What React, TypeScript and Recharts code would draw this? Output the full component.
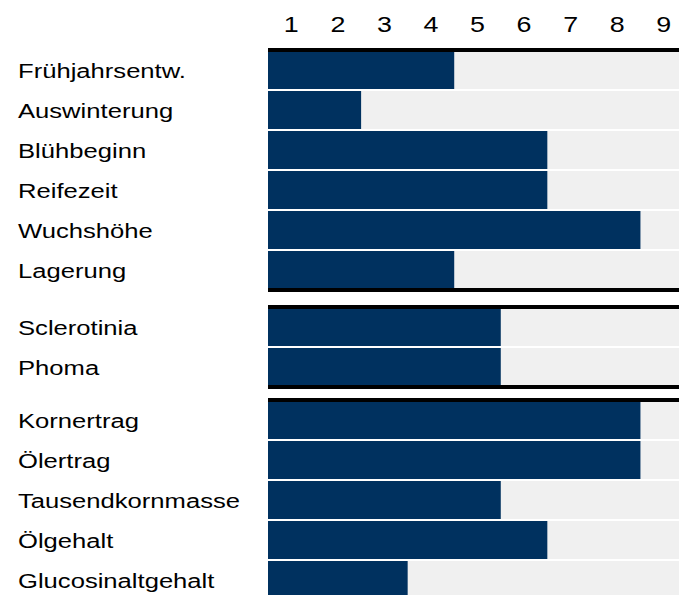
import * as React from "react";
import { BarChart, Bar, XAxis, YAxis } from "recharts";

// grades on the 1-9 scale, three blocks of traits
const traitsGrowth = ["Frühjahrsentw.", "Auswinterung", "Blühbeginn", "Reifezeit", "Wuchshöhe", "Lagerung"];
const gradesGrowth = [4, 2, 6, 6, 8, 4];

const traitsDisease = ["Sclerotinia", "Phoma"];
const gradesDisease = [5, 5];

const traitsYield = ["Kornertrag", "Ölertrag", "Tausendkornmasse", "Ölgehalt", "Glucosinaltgehalt"];
const gradesYield = [8, 8, 5, 6, 3];

const scaleTicks = [1, 2, 3, 4, 5, 6, 7, 8, 9];
const cellEdges = [0.5, 1.5, 2.5, 3.5, 4.5, 5.5, 6.5, 7.5, 8.5, 9.5];

const FONT = "'Liberation Sans', Arial, sans-serif";
const STRETCH = 1.22; // text in the original is a bit wide
const BAND = 40;
const FOOT = 8;
const LEFT = 268;
const CHART_W = 687;
const BAR_COLOR = "#00315f";
const TRACK_COLOR = "#f0f0f0";

// a grade fills its cells from 0.5 up to grade + 0.5
const toRows = (traits: string[], grades: number[]) =>
  traits.map((trait, i) => ({ trait, grade: grades[i], end: grades[i] + 0.5 }));

function LabelTick(props: any) {
  const { y, payload } = props;
  return (
    <text
      transform={`translate(18,${y + 7.5}) scale(${STRETCH},1)`}
      fontFamily={FONT}
      fontSize={21}
      fill="#000"
    >
      {payload.value}
    </text>
  );
}

function NumberTick(props: any) {
  const { x, payload } = props;
  return (
    <text
      transform={`translate(${x},32) scale(${STRETCH},1)`}
      textAnchor="middle"
      fontFamily={FONT}
      fontSize={22}
      fill="#000"
    >
      {payload.value}
    </text>
  );
}

function EmptyTick() {
  return <g />;
}

interface GroupProps {
  rows: { trait: string; grade: number; end: number }[];
  top: number;
  head: number;
  showNumbers?: boolean;
}

function Group({ rows, top, head, showNumbers }: GroupProps) {
  const height = head + rows.length * BAND + FOOT;
  return (
    <div style={{ position: "absolute", left: 0, top }}>
      <BarChart
        width={CHART_W}
        height={height}
        data={rows}
        layout="vertical"
        margin={{ top: 0, right: 0, bottom: 0, left: 0 }}
        barCategoryGap={1}
      >
        <XAxis
          xAxisId="top"
          orientation="top"
          type="number"
          domain={[0.5, 9.5]}
          ticks={scaleTicks}
          height={head}
          axisLine={{ stroke: "#000", strokeWidth: 4 }}
          tickLine={false}
          tick={showNumbers ? <NumberTick /> : <EmptyTick />}
        />
        <XAxis
          xAxisId="bottom"
          orientation="bottom"
          type="number"
          domain={[0.5, 9.5]}
          ticks={cellEdges}
          height={FOOT}
          axisLine={{ stroke: "#000", strokeWidth: 4 }}
          tickLine={{ stroke: "#000" }}
          tickSize={4}
          tick={<EmptyTick />}
        />
        <YAxis
          type="category"
          dataKey="trait"
          width={LEFT}
          axisLine={false}
          tickLine={false}
          interval={0}
          tick={<LabelTick />}
        />
        <Bar
          xAxisId="top"
          dataKey="end"
          fill={BAR_COLOR}
          background={{ fill: TRACK_COLOR }}
          isAnimationActive={false}
        />
      </BarChart>
    </div>
  );
}

export default function App() {
  return (
    <div
      style={{
        position: "fixed",
        left: 0,
        top: 0,
        width: 679,
        height: 595,
        overflow: "hidden",
        background: "#fff",
      }}
    >
      <Group rows={toRows(traitsGrowth, gradesGrowth)} top={0} head={50} showNumbers />
      <Group rows={toRows(traitsDisease, gradesDisease)} top={299} head={8} />
      <Group rows={toRows(traitsYield, gradesYield)} top={392} head={8} />
    </div>
  );
}
